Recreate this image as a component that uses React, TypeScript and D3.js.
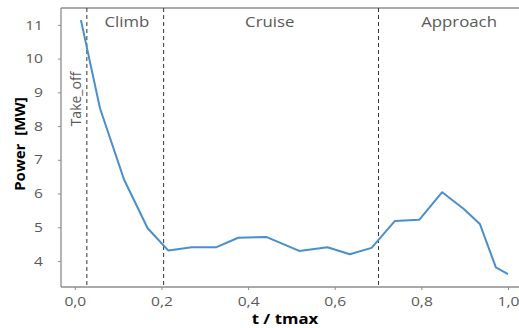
import { useRef, useEffect } from "react";
import * as d3 from "d3";

const tValues = [0.014, 0.058, 0.114, 0.168, 0.216, 0.27, 0.327, 0.377, 0.443, 0.518, 0.583, 0.635, 0.685, 0.739, 0.795, 0.848, 0.898, 0.935, 0.972, 1.0];
const powerValues = [11.14, 8.53, 6.4, 4.97, 4.31, 4.41, 4.41, 4.69, 4.71, 4.3, 4.41, 4.2, 4.39, 5.19, 5.22, 6.04, 5.54, 5.1, 3.81, 3.61];
const xTicks = [0, 0.2, 0.4, 0.6, 0.8, 1.0];
const yTicks = [4, 5, 6, 7, 8, 9, 10, 11];
const phaseBounds = [0.0277, 0.205, 0.701];
const phaseLabels = [
  { name: "Climb", t: 0.12 },
  { name: "Cruise", t: 0.45 },
  { name: "Approach", t: 0.887 },
];

const W = 519;
const H = 328;
const FONT = "'Open Sans', sans-serif";
const SX = 1.2; // text in the original is a bit wide

export default function App() {
  const svgRef = useRef<SVGSVGElement>(null);

  useEffect(() => {
    const svg = d3.select(svgRef.current);
    svg.selectAll("*").remove();

    const margin = { top: 8, left: 61, bottom: 41, right: 0 };
    const x = d3.scaleLinear().domain([-0.032, 1.03]).range([margin.left, margin.left + 460]);
    const y = d3.scaleLinear().domain([3.23, 11.5]).range([H - margin.bottom, margin.top]);

    const axisColor = "#8c8c8c";
    const textColor = "#595959";

    // frame: left, bottom, top
    svg.append("line").attr("x1", margin.left).attr("x2", margin.left)
      .attr("y1", margin.top).attr("y2", H - margin.bottom)
      .attr("stroke", axisColor).attr("stroke-width", 1.3);
    svg.append("line").attr("x1", margin.left).attr("x2", W)
      .attr("y1", H - margin.bottom).attr("y2", H - margin.bottom)
      .attr("stroke", axisColor).attr("stroke-width", 1.3);
    svg.append("line").attr("x1", margin.left).attr("x2", W)
      .attr("y1", margin.top).attr("y2", margin.top)
      .attr("stroke", axisColor).attr("stroke-width", 1.3);

    const xAxis = d3.axisBottom(x).tickValues(xTicks).tickSize(3).tickPadding(7)
      .tickFormat(d => d3.format(".1f")(d as number).replace(".", ","));
    const gx = svg.append("g").attr("transform", `translate(0,${H - margin.bottom})`).call(xAxis);
    gx.select(".domain").remove();
    gx.selectAll(".tick text").attr("transform", `scale(${SX},1)`);

    const yAxis = d3.axisLeft(y).tickValues(yTicks).tickSize(3).tickPadding(0)
      .tickFormat(d3.format("d"));
    const gy = svg.append("g").attr("transform", `translate(${margin.left},0)`).call(yAxis);
    gy.select(".domain").remove();
    gy.selectAll(".tick text")
      .attr("x", -18 / SX)
      .attr("transform", `scale(${SX},1)`);

    svg.selectAll(".tick line").attr("stroke", axisColor);
    svg.selectAll(".tick text")
      .attr("fill", textColor)
      .attr("font-family", FONT)
      .attr("font-size", "13px");

    // phase separators
    phaseBounds.forEach(b => {
      svg.append("line")
        .attr("x1", x(b)).attr("x2", x(b))
        .attr("y1", margin.top).attr("y2", H - margin.bottom)
        .attr("stroke", "#333").attr("stroke-width", 1)
        .attr("stroke-dasharray", "4,3");
    });

    phaseLabels.forEach(p => {
      svg.append("text")
        .attr("transform", `translate(${x(p.t)},27) scale(${SX},1)`)
        .attr("text-anchor", "middle")
        .attr("fill", textColor)
        .attr("font-family", FONT)
        .attr("font-size", "14px")
        .text(p.name);
    });

    svg.append("text")
      .attr("transform", `translate(${x(phaseBounds[0]) - 6},99) rotate(-90)`)
      .attr("text-anchor", "middle")
      .attr("fill", textColor)
      .attr("font-family", FONT)
      .attr("font-size", "14px")
      .text("Take_off");

    const line = d3.line<number>()
      .x((_, i) => x(tValues[i]))
      .y(d => y(d));

    svg.append("path")
      .datum(powerValues)
      .attr("fill", "none")
      .attr("stroke", "#4a8fcb")
      .attr("stroke-width", 2)
      .attr("stroke-linejoin", "round")
      .attr("d", line);

    svg.append("text")
      .attr("transform", `translate(285,324) scale(${SX},1)`)
      .attr("text-anchor", "middle")
      .attr("font-family", FONT)
      .attr("font-weight", "bold")
      .attr("font-size", "14px")
      .attr("fill", "#000")
      .text("t / tmax");

    svg.append("text")
      .attr("transform", "translate(25,144) rotate(-90)")
      .attr("text-anchor", "middle")
      .attr("font-family", FONT)
      .attr("font-weight", "bold")
      .attr("font-size", "15px")
      .attr("fill", "#000")
      .attr("xml:space", "preserve")
      .text("Power  [MW]");
  }, []);

  return (
    <svg ref={svgRef} width={W} height={H}
      style={{ position: "absolute", left: 0, top: 0, background: "#fff" }} />
  );
}
